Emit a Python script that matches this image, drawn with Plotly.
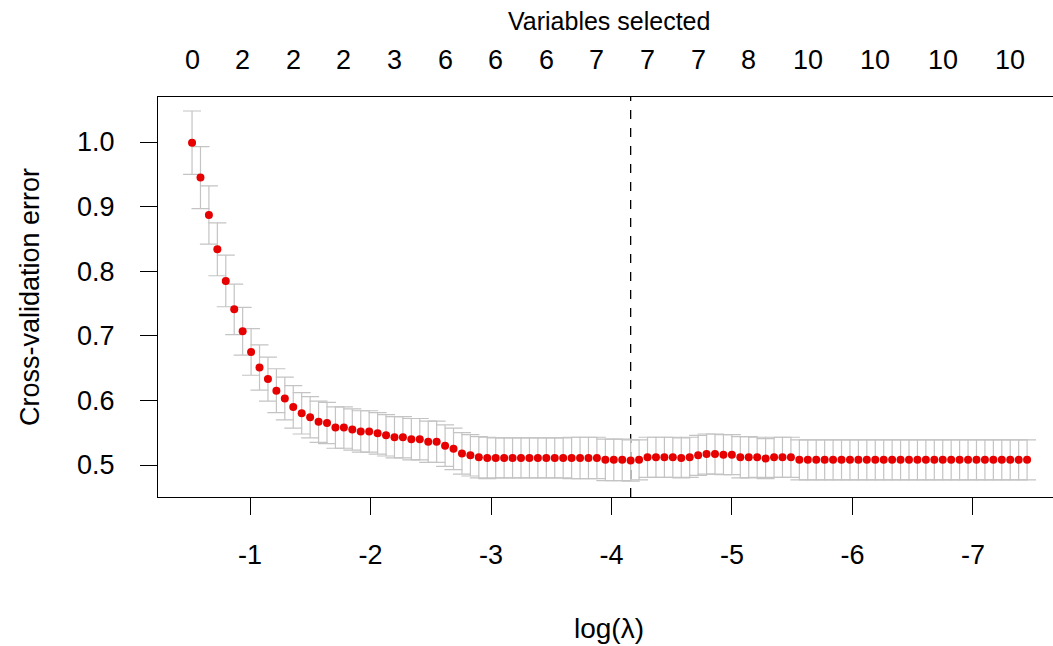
import plotly.graph_objects as go

# log(lambda) grid
log_lambda = [
    -0.519, -0.589, -0.659, -0.729, -0.799, -0.869, -0.939, -1.009, -1.079, -1.149,
    -1.219, -1.289, -1.359, -1.429, -1.499, -1.569, -1.639, -1.709, -1.779, -1.849,
    -1.919, -1.989, -2.059, -2.129, -2.199, -2.269, -2.339, -2.409, -2.479, -2.549,
    -2.619, -2.689, -2.759, -2.829, -2.899, -2.969, -3.039, -3.109, -3.179, -3.249,
    -3.319, -3.389, -3.459, -3.529, -3.599, -3.669, -3.739, -3.809, -3.879, -3.949,
    -4.019, -4.089, -4.159, -4.229, -4.299, -4.369, -4.439, -4.509, -4.579, -4.649,
    -4.719, -4.789, -4.859, -4.929, -4.999, -5.069, -5.139, -5.209, -5.279, -5.349,
    -5.419, -5.489, -5.559, -5.629, -5.699, -5.769, -5.839, -5.909, -5.979, -6.049,
    -6.119, -6.189, -6.259, -6.329, -6.399, -6.469, -6.539, -6.609, -6.679, -6.749,
    -6.819, -6.889, -6.959, -7.029, -7.099, -7.169, -7.239, -7.309, -7.379, -7.449,
]

# cross-validation error
cv_error = [
    0.999, 0.945, 0.887, 0.834, 0.785, 0.741, 0.707, 0.675, 0.651, 0.633,
    0.615, 0.603, 0.590, 0.580, 0.574, 0.567, 0.565, 0.558, 0.558, 0.555,
    0.552, 0.552, 0.549, 0.546, 0.543, 0.543, 0.540, 0.540, 0.536, 0.536,
    0.530, 0.525, 0.518, 0.515, 0.512, 0.511, 0.511, 0.511, 0.511, 0.511,
    0.511, 0.511, 0.511, 0.511, 0.511, 0.511, 0.511, 0.511, 0.511, 0.508,
    0.508, 0.508, 0.507, 0.508, 0.512, 0.512, 0.512, 0.512, 0.511, 0.512,
    0.515, 0.517, 0.517, 0.516, 0.516, 0.512, 0.512, 0.512, 0.510, 0.512,
    0.512, 0.512, 0.508, 0.508, 0.508, 0.508, 0.508, 0.508, 0.508, 0.508,
    0.508, 0.508, 0.508, 0.508, 0.508, 0.508, 0.508, 0.508, 0.508, 0.508,
    0.508, 0.508, 0.508, 0.508, 0.508, 0.508, 0.508, 0.508, 0.508, 0.508,
]

# standard error (half-length of error bars)
cv_se = [
    0.049, 0.048, 0.045, 0.041, 0.040, 0.039, 0.037, 0.036, 0.035, 0.034,
    0.034, 0.033, 0.033, 0.032, 0.032, 0.032, 0.032, 0.032, 0.032, 0.032,
    0.032, 0.032, 0.032, 0.032, 0.032, 0.032, 0.032, 0.032, 0.032, 0.032,
    0.032, 0.032, 0.032, 0.032, 0.032, 0.032, 0.031, 0.031, 0.031, 0.031,
    0.031, 0.031, 0.031, 0.031, 0.031, 0.032, 0.032, 0.032, 0.032, 0.032,
    0.032, 0.032, 0.032, 0.031, 0.031, 0.031, 0.031, 0.031, 0.031, 0.031,
    0.031, 0.031, 0.031, 0.031, 0.031, 0.032, 0.032, 0.031, 0.031, 0.031,
    0.031, 0.031, 0.031, 0.031, 0.031, 0.031, 0.031, 0.031, 0.031, 0.031,
    0.031, 0.031, 0.031, 0.031, 0.031, 0.031, 0.031, 0.031, 0.031, 0.031,
    0.031, 0.031, 0.031, 0.031, 0.031, 0.031, 0.031, 0.031, 0.031, 0.031,
]

min_index = 52

# top axis: number of variables selected, at these grid indices
top_tick_index = [0, 6, 12, 18, 24, 30, 36, 42, 48, 54, 60, 66, 73, 81, 89, 97]
top_tick_labels = ["0", "2", "2", "2", "3", "6", "6", "6", "7", "7", "7", "8",
                   "10", "10", "10", "10"]

x_tick_vals = [-1, -2, -3, -4, -5, -6, -7]
y_tick_vals = [0.5, 0.6, 0.7, 0.8, 0.9, 1.0]

FONT = "Liberation Sans, Arial, sans-serif"
TICK_SIZE = 27

fig = go.Figure()
fig.add_trace(go.Scatter(
    x=log_lambda, y=cv_error, mode="markers",
    marker=dict(color="#e60000", size=8, line=dict(width=0)),
    error_y=dict(type="data", array=cv_se, visible=True,
                 color="#c4c4c4", thickness=1.2, width=9),
    showlegend=False, hoverinfo="skip",
))

fig.add_shape(type="line", xref="x", yref="paper",
              x0=log_lambda[min_index], x1=log_lambda[min_index], y0=0, y1=1,
              line=dict(color="black", width=1.3, dash="dash"), layer="below")

annotations = []
for idx, lab in zip(top_tick_index, top_tick_labels):
    annotations.append(dict(x=log_lambda[idx], y=1.0, xref="x", yref="paper",
                            yshift=37, text=lab, showarrow=False,
                            font=dict(family=FONT, size=TICK_SIZE, color="black"),
                            xanchor="center", yanchor="middle"))
annotations.append(dict(x=0.504, y=1.0, xref="paper", yref="paper", yshift=76,
                        text="Variables selected", showarrow=False,
                        font=dict(family=FONT, size=25, color="black"),
                        xanchor="center", yanchor="middle"))
annotations.append(dict(x=0.504, y=0, xref="paper", yref="paper", yshift=-131,
                        text="log(λ)", showarrow=False,
                        font=dict(family=FONT, size=28, color="black"),
                        xanchor="center", yanchor="middle"))
annotations.append(dict(x=0, y=0.5, xref="paper", yref="paper", xshift=-128,
                        text="Cross-validation error", showarrow=False, textangle=-90,
                        font=dict(family=FONT, size=27, color="black"),
                        xanchor="center", yanchor="middle"))

fig.update_layout(
    width=1053, height=646,
    margin=dict(l=158, r=0, t=97, b=149),
    paper_bgcolor="white", plot_bgcolor="white",
    font=dict(family=FONT, size=TICK_SIZE, color="black"),
    annotations=annotations,
    xaxis=dict(range=[-0.2365, -7.664], tickvals=x_tick_vals,
               ticktext=[str(v) for v in x_tick_vals],
               ticks="outside", ticklen=17, tickwidth=1, tickcolor="black",
               showline=True, linecolor="black", linewidth=1.3, mirror=True,
               showgrid=False, zeroline=False, ticklabelstandoff=16),
    yaxis=dict(range=[0.4505, 1.0697], tickvals=y_tick_vals, tickformat=".1f",
               ticks="outside", ticklen=17, tickwidth=1, tickcolor="black",
               showline=True, linecolor="black", linewidth=1.3, mirror=False,
               showgrid=False, zeroline=False, ticklabelstandoff=20),
)

fig.write_html("out.html")
